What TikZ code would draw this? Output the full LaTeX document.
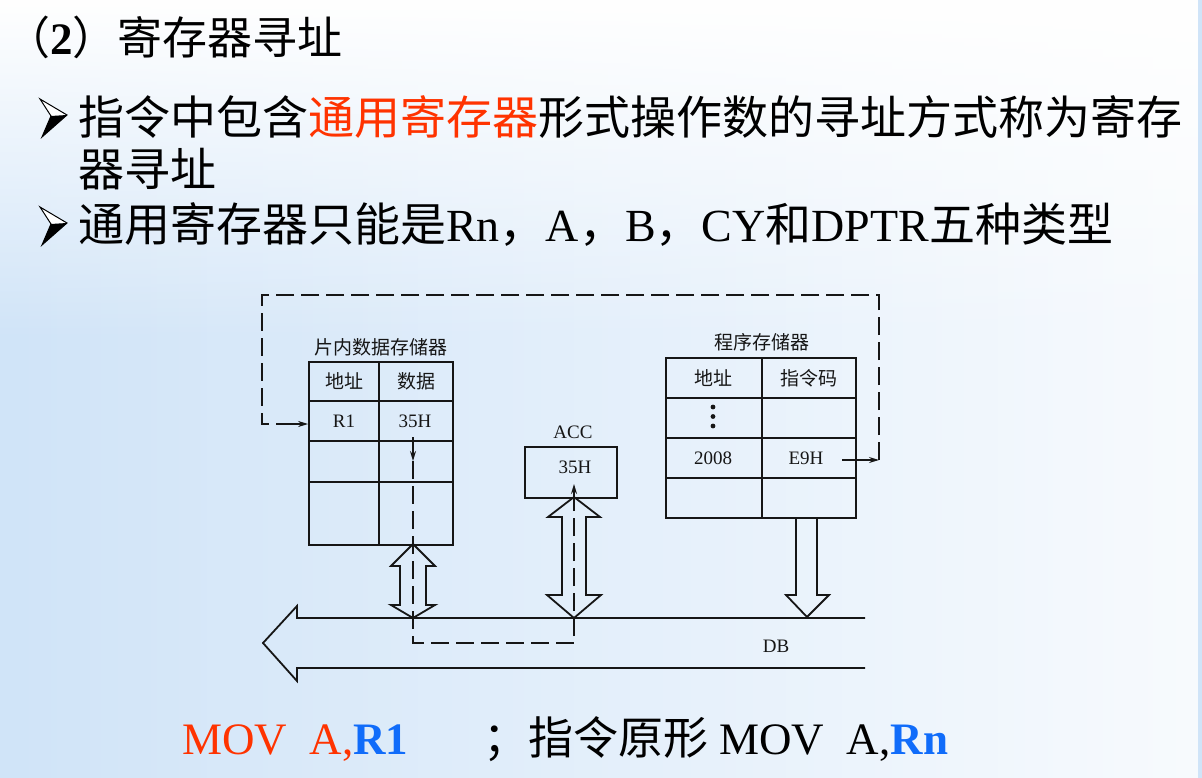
\documentclass[tikz,border=0pt]{standalone}
\usepackage{fontspec}
\setmainfont{Liberation Serif}
\newfontfamily\zh{Noto Sans CJK SC}
\usetikzlibrary{arrows.meta,fadings}
\definecolor{bgblue}{RGB}{208,228,248}
\definecolor{hired}{RGB}{255,51,0}
\definecolor{hiblue}{RGB}{16,108,250}
\definecolor{ink}{RGB}{22,22,22}
\tikzfading[name=fadeleft, left color=transparent!100, right color=transparent!15]
\tikzfading[name=fadetop, top color=transparent!0, bottom color=transparent!100]
\begin{document}
\begin{tikzpicture}[x=1pt,y=-1pt,
  big/.style={font=\fontsize{46}{50}\selectfont, inner sep=0pt, anchor=base west, text=black},
  bottomtxt/.style={font=\fontsize{45}{50}\selectfont, inner sep=0pt, anchor=base west, text=black},
  lbl/.style={font=\fontsize{19}{22}\selectfont, inner sep=0pt, text=ink},
  tbl/.style={draw=ink, line width=1.8pt},
  dashline/.style={draw=ink, line width=1.4pt, dash pattern=on 18pt off 7pt},
  tipline/.style={draw=ink, line width=1.4pt, -{Stealth[length=10pt,width=6pt]}},
  fat/.style={draw=ink, line width=1.8pt, line join=miter},
  arrowbullet/.pic={
    \fill[white] (-11,-17) -- (16,-1) -- (0,0) -- cycle;
    \fill[black] (0,0) -- (16,-1) -- (-9,21) -- cycle;
    \draw[black, line width=1pt, line join=miter] (-11,-17) -- (16,-1) -- (-9,21) -- (0,0) -- cycle;
  }]
% background
\useasboundingbox (0,0) rectangle (1202,778);
\fill[bgblue] (0,0) rectangle (1202,778);
\fill[white, path fading=fadeleft] (0,0) rectangle (1202,778);
\fill[white, path fading=fadetop] (0,0) rectangle (1202,340);

% texts
\node[big, font=\fontsize{45}{50}\selectfont] (title) at (5,55) {{\zh （}\textbf{2}{\zh ）寄存器寻址}};
\pic at (51,116) {arrowbullet};
\node[big] (l1) at (78,135) {\zh 指令中包含\textcolor{hired}{通用寄存器}形式操作数的寻址方式称为寄存};
\node[big] (l2) at (78,187) {\zh 器寻址};
\pic at (51,224) {arrowbullet};
\node[big] (l3) at (78,242) {{\zh 通用寄存器只能是}Rn{\zh ，}A{\zh ，}B{\zh ，}CY{\zh 和}DPTR{\zh 五种类型}};
\node[bottomtxt] (m1) at (182,754) {\textcolor{hired}{MOV\ \ A,}\textcolor{hiblue}{\textbf{R1}}};
\node[bottomtxt] (m2) at (483,754) {{\zh ；指令原形}~MOV\ \ A,\textcolor{hiblue}{\textbf{Rn}}};

% left table: on-chip data memory
\node[lbl] (ltitle) at (381,347) {\zh 片内数据存储器};
\node[tbl, minimum width=144pt, minimum height=183pt, inner sep=0pt] (ltab) at (381,453.5) {};
\draw[tbl] (379,362) -- (379,545);
\draw[tbl] (309,401) -- (453,401);
\draw[tbl] (309,441) -- (453,441);
\draw[tbl] (309,482) -- (453,482);
\node[lbl] (la1) at (344,381) {\zh 地址};
\node[lbl] (la2) at (416,381) {\zh 数据};
\node[lbl] (lr1) at (344,421) {R1};
\node[lbl] (ld1) at (415,421) {35H};

% ACC
\node[lbl] (acclbl) at (573,432) {ACC};
\node[draw=ink, line width=2.2pt, minimum width=92pt, minimum height=51pt, inner sep=0pt] (acc) at (571,472.5) {};
\node[lbl] (accval) at (575,467) {35H};

% right table: program memory
\node[lbl] (rtitle) at (762,342) {\zh 程序存储器};
\node[tbl, minimum width=190pt, minimum height=160pt, inner sep=0pt] (rtab) at (761,438) {};
\draw[tbl] (762,358) -- (762,518);
\draw[tbl] (666,398) -- (856,398);
\draw[tbl] (666,438) -- (856,438);
\draw[tbl] (666,478) -- (856,478);
\node[lbl] (ra1) at (713,378) {\zh 地址};
\node[lbl] (ra2) at (809,378) {\zh 指令码};
\fill[ink] (713,407) circle (2.4pt) (713,416.5) circle (2.4pt) (713,426) circle (2.4pt);
\node[lbl] (raddr) at (713,458) {2008};
\node[lbl] (rcode) at (806,458) {E9H};

% bus
\draw[fat] (865,618) -- (297,618) -- (297,606) -- (263,643) -- (297,681) -- (297,668) -- (865,668);
\node[lbl] (db) at (776,646) {DB};

% fat arrows
\draw[fat] (413,544) -- (435,566) -- (426,566) -- (426,605) -- (435,605) -- (413,618)
  -- (391,605) -- (400,605) -- (400,566) -- (391,566) -- cycle;
\draw[fat] (574,497) -- (600,517) -- (586,517) -- (586,595) -- (601,595) -- (574,618)
  -- (547,595) -- (562,595) -- (562,517) -- (548,517) -- cycle;
\draw[fat] (796,518) -- (796,595) -- (786,595) -- (807,617) -- (829,595) -- (817,595) -- (817,518);

% data path (dashed)
\coordinate (d1) at (413,437);
\coordinate (d2) at (413,461);
\coordinate (d3) at (413,643);
\coordinate (d4) at (574,643);
\coordinate (d5) at (574,502);
\coordinate (d6) at (574,484);
\draw[tipline] (d1) -- (d2);
\draw[dashline] (d2) -- (d3) -- (d4) -- (d5);
\draw[tipline] (d5) -- (d6);

% address path (dashed loop)
\coordinate (e1) at (842,460);
\coordinate (e2) at (879,460);
\coordinate (e3) at (879,295);
\coordinate (e4) at (262,295);
\coordinate (e5) at (262,424);
\coordinate (e6) at (292,424);
\draw[tipline] (e1) -- (e2);
\draw[dashline] (e2) -- (e3) -- (e4) -- (e5) -- (e6);
\draw[tipline] (e6) -- (ltab.west |- e6);
\end{tikzpicture}
\end{document}
